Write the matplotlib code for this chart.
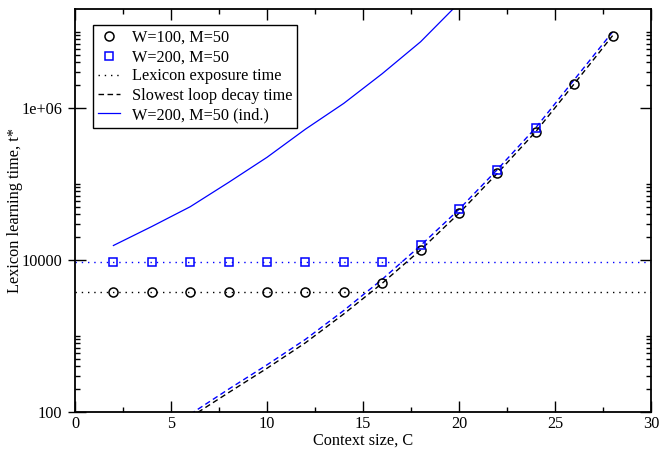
import numpy as np
import matplotlib
matplotlib.use('Agg')
import matplotlib.pyplot as plt
from matplotlib.ticker import FixedLocator, FixedFormatter, MultipleLocator
from matplotlib.lines import Line2D

plt.rcParams['font.family'] = ['Liberation Serif', 'DejaVu Serif']
plt.rcParams['font.size'] = 11.7

# simulation points
C_sim = [2, 4, 6, 8, 10, 12, 14, 16, 18, 20, 22, 24, 26, 28]
t_w100 = [3830, 3830, 3830, 3830, 3830, 3830, 3830, 4930, 13550, 41100,
          138000, 488000, 2.07e6, 8.93e6]
C_sim200 = [2, 4, 6, 8, 10, 12, 14, 16, 18, 20, 22, 24]
t_w200 = [9330, 9330, 9330, 9330, 9330, 9330, 9330, 9330, 15700, 46500,
          152800, 551000]

# lexicon exposure times
exposure_w100 = 3830
exposure_w200 = 9330

# slowest loop decay time (log10 values)
C_decay = [6, 8, 10, 12, 14, 16, 18, 20, 22, 24, 26, 28]
logdecay_w100 = [1.93, 2.255, 2.575, 2.91, 3.29, 3.693, 4.132, 4.614, 5.141,
                 5.688, 6.316, 6.951]
logdecay_w200 = [1.97, 2.30, 2.62, 2.955, 3.335, 3.745, 4.19, 4.665, 5.19,
                 5.74, 6.37, 7.0]

# independent-learning estimate, W=200 M=50 (log10 values)
C_ind = [2, 4, 6, 8, 10, 12, 14, 16, 18, 20]
logt_ind = [4.19, 4.44, 4.70, 5.02, 5.35, 5.72, 6.06, 6.45, 6.87, 7.38]

blue = '#0000ff'
dot = (0, (1, 3.5))
dash = (0, (4, 2.5))

fig = plt.figure(figsize=(6.6, 4.49), dpi=100)
ax = fig.add_axes([75/660, 1-412/449, 576/660, 403/449])

ax.axhline(exposure_w100, color='k', ls=dot, lw=1.0)
ax.axhline(exposure_w200, color=blue, ls=dot, lw=1.0)
ax.plot(C_decay, 10**np.array(logdecay_w100), color='k', ls=dash, lw=1.0)
ax.plot(C_decay, 10**np.array(logdecay_w200), color=blue, ls=dash, lw=1.0)
ax.plot(C_ind, 10**np.array(logt_ind), color=blue, lw=0.9)
ax.plot(C_sim, t_w100, 'o', ms=6.5, mfc='none', mec='k', mew=1.1)
ax.plot(C_sim200, t_w200, 's', ms=5.5, mfc='none', mec=blue, mew=1.1)

ax.set_yscale('log')
ax.set_xlim(0, 30)
ax.set_ylim(100, 2e7)

ax.xaxis.set_major_locator(MultipleLocator(5))
ax.xaxis.set_minor_locator(MultipleLocator(2.5))
ax.yaxis.set_major_locator(FixedLocator([1e2, 1e4, 1e6]))
ax.yaxis.set_major_formatter(FixedFormatter(['100', '10000', '1e+06']))
minors = [k * 10.0**n for n in (2, 4, 6) for k in range(2, 11)]
ax.yaxis.set_minor_locator(FixedLocator(minors))
ax.yaxis.set_minor_formatter(FixedFormatter([''] * len(minors)))

ax.tick_params(which='major', direction='in', length=8, width=1.0,
               top=True, right=True, pad=3)
ax.tick_params(which='minor', direction='in', length=3.8, width=1.0,
               top=True, right=True)
ax.tick_params(axis='y', which='major', pad=9)
for s in ax.spines.values():
    s.set_linewidth(1.3)

# outward part of the left major ticks
sec = ax.secondary_yaxis('left')
sec.set_yscale('log')
sec.yaxis.set_major_locator(FixedLocator([1e2, 1e4, 1e6]))
sec.yaxis.set_minor_locator(FixedLocator([]))
sec.tick_params(which='major', direction='out', length=5, width=1.0,
                labelleft=False)
sec.spines['left'].set_visible(False)

ax.set_xlabel('Context size, C', labelpad=0)
ax.set_ylabel('Lexicon learning time, t*', labelpad=-1)

handles = [
    Line2D([], [], ls='none', marker='o', ms=6.5, mfc='none', mec='k', mew=1.1),
    Line2D([], [], ls='none', marker='s', ms=5.5, mfc='none', mec=blue, mew=1.1),
    Line2D([], [], color='k', ls=dot, lw=1.0),
    Line2D([], [], color='k', ls=dash, lw=1.0),
    Line2D([], [], color=blue, lw=0.9),
]
labels = ['W=100, M=50', 'W=200, M=50', 'Lexicon exposure time',
          'Slowest loop decay time', 'W=200, M=50 (ind.)']
leg = ax.legend(handles, labels, loc='upper left', bbox_to_anchor=(0.031, 0.96),
                borderaxespad=0, fancybox=False, framealpha=1, edgecolor='k',
                handlelength=1.4, handletextpad=0.7, labelspacing=0.2,
                borderpad=0.3)
leg.get_frame().set_linewidth(1.0)

fig.savefig('out.png', dpi=100)
